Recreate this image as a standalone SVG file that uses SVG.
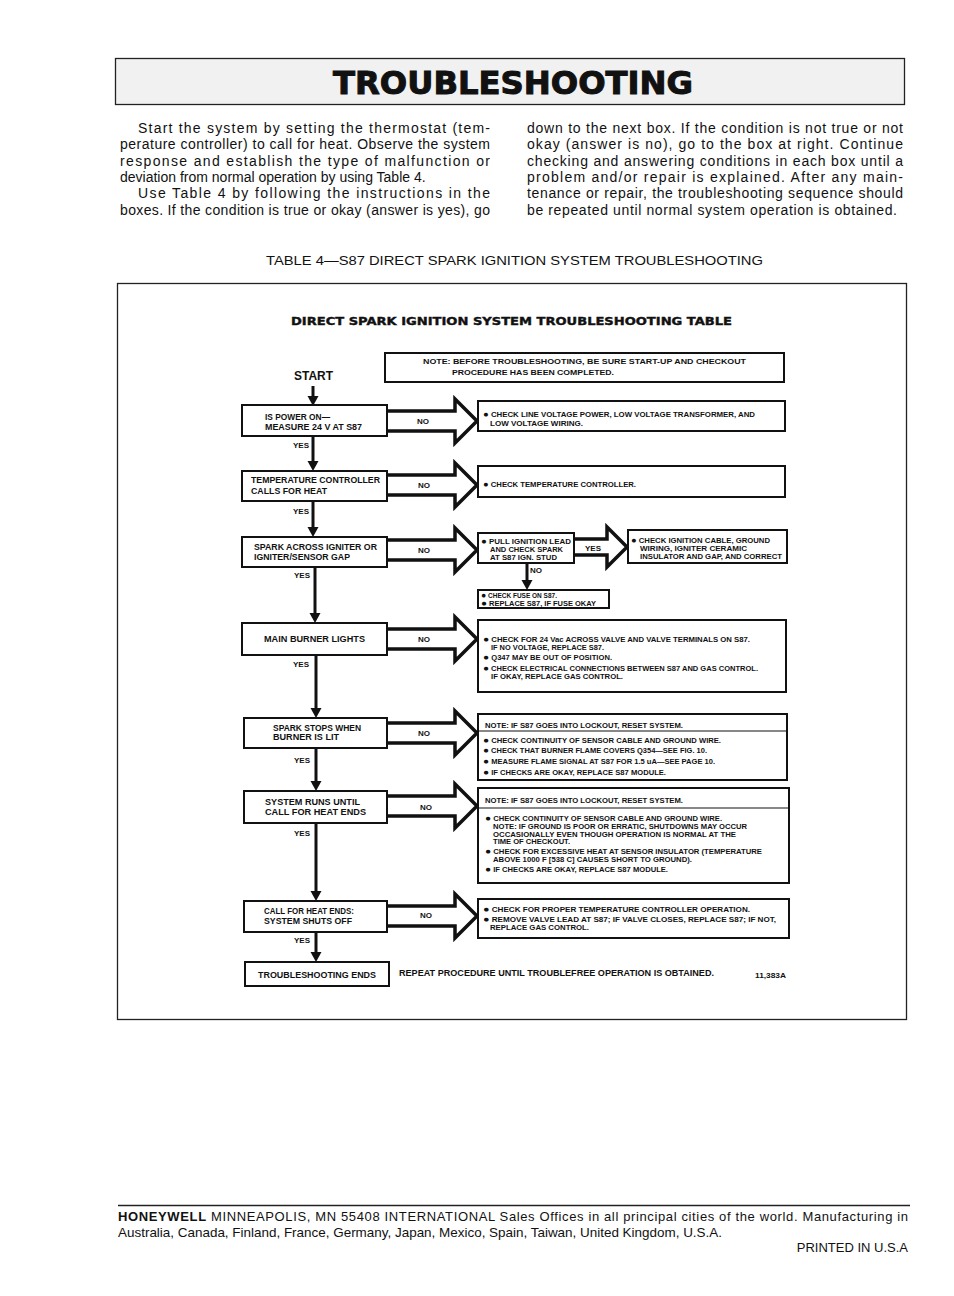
<svg xmlns="http://www.w3.org/2000/svg" width="954" height="1296" viewBox="0 0 954 1296">
<defs>
<style>
text{font-family:"Liberation Sans",Arial,Helvetica,sans-serif;fill:#111}
.body{font-size:14px}
.foot{font-size:13px}
.cap{font-size:13.5px}
.lb{font-size:8.3px;font-weight:bold}
.rb{font-size:7px;font-weight:bold}
.sm{font-size:6.4px;font-weight:bold}
.bu{font-size:8.5px}
.lbl{font-size:8px;font-weight:bold}
.box{fill:#fff;stroke:#111;stroke-width:2}
.big{fill:#fff;stroke:#111;stroke-width:3.5;stroke-linejoin:miter}
.vl{stroke:#111;stroke-width:3;fill:none}
.ah{fill:#111}
</style>
</defs>
<rect width="954" height="1296" fill="#fff"/>

<g id="header">
<rect x="115.5" y="58.5" width="789" height="46" fill="#f1f1f1" stroke="#222" stroke-width="1.3"/>
<text x="333" y="94" font-weight="bold" font-size="32" textLength="360" lengthAdjust="spacingAndGlyphs" stroke="#111" stroke-width="1" style="font-family:'DejaVu Sans','Liberation Sans',sans-serif">TROUBLESHOOTING</text>
</g>

<g id="intro">
<text class="body" x="138" y="133" textLength="352" lengthAdjust="spacing">Start the system by setting the thermostat (tem-</text>
<text class="body" x="120" y="149.3" textLength="370" lengthAdjust="spacing">perature controller) to call for heat. Observe the system</text>
<text class="body" x="120" y="165.6" textLength="370" lengthAdjust="spacing">response and establish the type of malfunction or</text>
<text class="body" x="120" y="181.9">deviation from normal operation by using Table 4.</text>
<text class="body" x="138" y="198.2" textLength="352" lengthAdjust="spacing">Use Table 4 by following the instructions in the</text>
<text class="body" x="120" y="214.5" textLength="370" lengthAdjust="spacing">boxes. If the condition is true or okay (answer is yes), go</text>
<text class="body" x="527" y="133" textLength="376" lengthAdjust="spacing">down to the next box. If the condition is not true or not</text>
<text class="body" x="527" y="149.3" textLength="376" lengthAdjust="spacing">okay (answer is no), go to the box at right. Continue</text>
<text class="body" x="527" y="165.6" textLength="376" lengthAdjust="spacing">checking and answering conditions in each box until a</text>
<text class="body" x="527" y="181.9" textLength="376" lengthAdjust="spacing">problem and/or repair is explained. After any main-</text>
<text class="body" x="527" y="198.2" textLength="376" lengthAdjust="spacing">tenance or repair, the troubleshooting sequence should</text>
<text class="body" x="527" y="214.5" textLength="370" lengthAdjust="spacing">be repeated until normal system operation is obtained.</text>
</g>

<text class="cap" x="266" y="265" textLength="497" lengthAdjust="spacingAndGlyphs">TABLE 4—S87 DIRECT SPARK IGNITION SYSTEM TROUBLESHOOTING</text>

<rect id="table-frame" x="117.5" y="283.5" width="789" height="736" fill="none" stroke="#222" stroke-width="1.3"/>

<text x="291" y="325" font-size="11" font-weight="bold" textLength="441" lengthAdjust="spacingAndGlyphs" stroke="#111" stroke-width="0.4" style="font-family:'DejaVu Sans','Liberation Sans',sans-serif">DIRECT SPARK IGNITION SYSTEM TROUBLESHOOTING TABLE</text>

<g id="start"><text x="294" y="380" font-size="13" font-weight="bold" textLength="39" lengthAdjust="spacingAndGlyphs">START</text></g>

<g id="note">
<rect class="box" x="385" y="353" width="399" height="29"/>
<text class="rb" x="423" y="364" textLength="323" lengthAdjust="spacingAndGlyphs">NOTE: BEFORE TROUBLESHOOTING, BE SURE START-UP AND CHECKOUT</text>
<text class="rb" x="452" y="375" textLength="162" lengthAdjust="spacingAndGlyphs">PROCEDURE HAS BEEN COMPLETED.</text>
</g>

<g id="connectors">
<line class="vl" x1="313" y1="386" x2="313" y2="398"/><polygon class="ah" points="307.5,396 318.5,396 313,406"/>
<line class="vl" x1="313" y1="436" x2="313" y2="463"/><polygon class="ah" points="307.5,461 318.5,461 313,471"/>
<line class="vl" x1="313" y1="501" x2="313" y2="529"/><polygon class="ah" points="307.5,527 318.5,527 313,537"/>
<line class="vl" x1="315" y1="567" x2="315" y2="615"/><polygon class="ah" points="309.5,613 320.5,613 315,623"/>
<line class="vl" x1="316" y1="655" x2="316" y2="710"/><polygon class="ah" points="310.5,708 321.5,708 316,718"/>
<line class="vl" x1="316" y1="748" x2="316" y2="783"/><polygon class="ah" points="310.5,781 321.5,781 316,791"/>
<line class="vl" x1="316" y1="823" x2="316" y2="893"/><polygon class="ah" points="310.5,891 321.5,891 316,901"/>
<line class="vl" x1="316" y1="932" x2="316" y2="954"/><polygon class="ah" points="310.5,952 321.5,952 316,962"/>
<line class="vl" x1="527" y1="563" x2="527" y2="582"/><polygon class="ah" points="521.5,580 532.5,580 527,590"/>
<path class="big" d="M387,411 H455 V399 L477,421 L455,443 V431 H387"/>
<path class="big" d="M387,475 H455 V463 L477,485 L455,507 V495 H387"/>
<path class="big" d="M387,540 H455 V528 L477,550 L455,572 V560 H387"/>
<path class="big" d="M574,539 H607 V527 L627,547 L607,567 V555 H574"/>
<path class="big" d="M387,629 H455 V617 L477,639 L455,661 V649 H387"/>
<path class="big" d="M387,723 H455 V711 L477,733 L455,755 V743 H387"/>
<path class="big" d="M387,796 H455 V784 L477,806 L455,828 V816 H387"/>
<path class="big" d="M387,906 H455 V894 L477,916 L455,938 V926 H387"/>
<text class="lbl" x="417" y="424">NO</text>
<text class="lbl" x="418" y="488">NO</text>
<text class="lbl" x="418" y="553">NO</text>
<text class="lbl" x="585" y="551">YES</text>
<text class="lbl" x="530" y="573">NO</text>
<text class="lbl" x="418" y="642">NO</text>
<text class="lbl" x="418" y="736">NO</text>
<text class="lbl" x="420" y="810">NO</text>
<text class="lbl" x="420" y="918">NO</text>
<text class="lbl" x="309" y="448" text-anchor="end">YES</text>
<text class="lbl" x="309" y="514" text-anchor="end">YES</text>
<text class="lbl" x="310" y="578" text-anchor="end">YES</text>
<text class="lbl" x="309" y="667" text-anchor="end">YES</text>
<text class="lbl" x="310" y="763" text-anchor="end">YES</text>
<text class="lbl" x="310" y="836" text-anchor="end">YES</text>
<text class="lbl" x="310" y="943" text-anchor="end">YES</text>
</g>

<g id="box1">
<rect class="box" x="242" y="405" width="145" height="31"/>
<text class="lb" x="265" y="420" textLength="65" lengthAdjust="spacingAndGlyphs">IS POWER ON—</text>
<text class="lb" x="265" y="430" textLength="97" lengthAdjust="spacingAndGlyphs">MEASURE 24 V AT S87</text>
</g>
<g id="fix1">
<rect class="box" x="478" y="401" width="307" height="30"/>
<text class="rb" x="483" y="417" textLength="272" lengthAdjust="spacingAndGlyphs"><tspan class="bu">●</tspan> CHECK LINE VOLTAGE POWER, LOW VOLTAGE TRANSFORMER, AND</text>
<text class="rb" x="490" y="426" textLength="93" lengthAdjust="spacingAndGlyphs">LOW VOLTAGE WIRING.</text>
</g>

<g id="box2">
<rect class="box" x="242" y="471" width="145" height="30"/>
<text class="lb" x="251" y="483" textLength="129" lengthAdjust="spacingAndGlyphs">TEMPERATURE CONTROLLER</text>
<text class="lb" x="251" y="494" textLength="76" lengthAdjust="spacingAndGlyphs">CALLS FOR HEAT</text>
</g>
<g id="fix2">
<rect class="box" x="478" y="466" width="307" height="31"/>
<text class="rb" x="483" y="487" textLength="153" lengthAdjust="spacingAndGlyphs"><tspan class="bu">●</tspan> CHECK TEMPERATURE CONTROLLER.</text>
</g>

<g id="box3">
<rect class="box" x="242" y="537" width="145" height="30"/>
<text class="lb" x="254" y="550" textLength="123" lengthAdjust="spacingAndGlyphs">SPARK ACROSS IGNITER OR</text>
<text class="lb" x="254" y="560" textLength="96" lengthAdjust="spacingAndGlyphs">IGNITER/SENSOR GAP</text>
</g>
<g id="fix3a">
<rect class="box" x="478" y="533" width="96" height="30"/>
<text class="rb" x="481" y="544" textLength="90" lengthAdjust="spacingAndGlyphs"><tspan class="bu">●</tspan> PULL IGNITION LEAD</text>
<text class="rb" x="490" y="552" textLength="73" lengthAdjust="spacingAndGlyphs">AND CHECK SPARK</text>
<text class="rb" x="490" y="560" textLength="67" lengthAdjust="spacingAndGlyphs">AT S87 IGN. STUD</text>
</g>
<g id="fix3b">
<rect class="box" x="628" y="530" width="159" height="33"/>
<text class="rb" x="631" y="543" textLength="139" lengthAdjust="spacingAndGlyphs"><tspan class="bu">●</tspan> CHECK IGNITION CABLE, GROUND</text>
<text class="rb" x="640" y="551" textLength="107" lengthAdjust="spacingAndGlyphs">WIRING, IGNITER CERAMIC</text>
<text class="rb" x="640" y="559" textLength="142" lengthAdjust="spacingAndGlyphs">INSULATOR AND GAP, AND CORRECT</text>
</g>
<g id="fix3c">
<rect class="box" x="478" y="590" width="131" height="18"/>
<text class="sm" x="481" y="598" textLength="76" lengthAdjust="spacingAndGlyphs"><tspan class="bu">●</tspan> CHECK FUSE ON S87.</text>
<text class="sm" x="481" y="606" textLength="115" lengthAdjust="spacingAndGlyphs"><tspan class="bu">●</tspan> REPLACE S87, IF FUSE OKAY</text>
</g>

<g id="box4">
<rect class="box" x="242" y="623" width="145" height="32"/>
<text class="lb" x="264" y="642" textLength="101" lengthAdjust="spacingAndGlyphs">MAIN BURNER LIGHTS</text>
</g>
<g id="fix4">
<rect class="box" x="478" y="620" width="308" height="72"/>
<text class="sm" x="483" y="642" textLength="267" lengthAdjust="spacingAndGlyphs"><tspan class="bu">●</tspan> CHECK FOR 24 Vac ACROSS VALVE AND VALVE TERMINALS ON S87.</text>
<text class="sm" x="491" y="650" textLength="113" lengthAdjust="spacingAndGlyphs">IF NO VOLTAGE, REPLACE S87.</text>
<text class="sm" x="483" y="660" textLength="129" lengthAdjust="spacingAndGlyphs"><tspan class="bu">●</tspan> Q347 MAY BE OUT OF POSITION.</text>
<text class="sm" x="483" y="671" textLength="275" lengthAdjust="spacingAndGlyphs"><tspan class="bu">●</tspan> CHECK ELECTRICAL CONNECTIONS BETWEEN S87 AND GAS CONTROL.</text>
<text class="sm" x="491" y="679" textLength="132" lengthAdjust="spacingAndGlyphs">IF OKAY, REPLACE GAS CONTROL.</text>
</g>

<g id="box5">
<rect class="box" x="244" y="718" width="143" height="30"/>
<text class="lb" x="273" y="731" textLength="88" lengthAdjust="spacingAndGlyphs">SPARK STOPS WHEN</text>
<text class="lb" x="273" y="740" textLength="66" lengthAdjust="spacingAndGlyphs">BURNER IS LIT</text>
</g>
<g id="fix5">
<rect class="box" x="478" y="714" width="309" height="66"/>
<line x1="478" y1="731" x2="787" y2="731" stroke="#111" stroke-width="1.2"/>
<text class="sm" x="485" y="728" textLength="198" lengthAdjust="spacingAndGlyphs">NOTE: IF S87 GOES INTO LOCKOUT, RESET SYSTEM.</text>
<text class="sm" x="483" y="743" textLength="238" lengthAdjust="spacingAndGlyphs"><tspan class="bu">●</tspan> CHECK CONTINUITY OF SENSOR CABLE AND GROUND WIRE.</text>
<text class="sm" x="483" y="753" textLength="224" lengthAdjust="spacingAndGlyphs"><tspan class="bu">●</tspan> CHECK THAT BURNER FLAME COVERS Q354—SEE FIG. 10.</text>
<text class="sm" x="483" y="764" textLength="232" lengthAdjust="spacingAndGlyphs"><tspan class="bu">●</tspan> MEASURE FLAME SIGNAL AT S87 FOR 1.5 uA—SEE PAGE 10.</text>
<text class="sm" x="483" y="775" textLength="183" lengthAdjust="spacingAndGlyphs"><tspan class="bu">●</tspan> IF CHECKS ARE OKAY, REPLACE S87 MODULE.</text>
</g>

<g id="box6">
<rect class="box" x="244" y="791" width="143" height="32"/>
<text class="lb" x="265" y="805" textLength="95" lengthAdjust="spacingAndGlyphs">SYSTEM RUNS UNTIL</text>
<text class="lb" x="265" y="815" textLength="101" lengthAdjust="spacingAndGlyphs">CALL FOR HEAT ENDS</text>
</g>
<g id="fix6">
<rect class="box" x="478" y="788" width="311" height="95"/>
<line x1="478" y1="808" x2="789" y2="808" stroke="#111" stroke-width="1.2"/>
<text class="sm" x="485" y="803" textLength="198" lengthAdjust="spacingAndGlyphs">NOTE: IF S87 GOES INTO LOCKOUT, RESET SYSTEM.</text>
<text class="sm" x="485" y="821" textLength="237" lengthAdjust="spacingAndGlyphs"><tspan class="bu">●</tspan> CHECK CONTINUITY OF SENSOR CABLE AND GROUND WIRE.</text>
<text class="sm" x="493" y="829" textLength="254" lengthAdjust="spacingAndGlyphs">NOTE: IF GROUND IS POOR OR ERRATIC, SHUTDOWNS MAY OCCUR</text>
<text class="sm" x="493" y="837" textLength="243" lengthAdjust="spacingAndGlyphs">OCCASIONALLY EVEN THOUGH OPERATION IS NORMAL AT THE</text>
<text class="sm" x="493" y="844" textLength="77" lengthAdjust="spacingAndGlyphs">TIME OF CHECKOUT.</text>
<text class="sm" x="485" y="854" textLength="277" lengthAdjust="spacingAndGlyphs"><tspan class="bu">●</tspan> CHECK FOR EXCESSIVE HEAT AT SENSOR INSULATOR (TEMPERATURE</text>
<text class="sm" x="493" y="862" textLength="199" lengthAdjust="spacingAndGlyphs">ABOVE 1000 F [538 C] CAUSES SHORT TO GROUND).</text>
<text class="sm" x="485" y="872" textLength="183" lengthAdjust="spacingAndGlyphs"><tspan class="bu">●</tspan> IF CHECKS ARE OKAY, REPLACE S87 MODULE.</text>
</g>

<g id="box7">
<rect class="box" x="244" y="901" width="143" height="31"/>
<text class="lb" x="264" y="914" textLength="90" lengthAdjust="spacingAndGlyphs">CALL FOR HEAT ENDS:</text>
<text class="lb" x="264" y="924" textLength="88" lengthAdjust="spacingAndGlyphs">SYSTEM SHUTS OFF</text>
</g>
<g id="fix7">
<rect class="box" x="478" y="899" width="311" height="39"/>
<text class="sm" x="483" y="912" textLength="267" lengthAdjust="spacingAndGlyphs"><tspan class="bu">●</tspan> CHECK FOR PROPER TEMPERATURE CONTROLLER OPERATION.</text>
<text class="sm" x="483" y="922" textLength="293" lengthAdjust="spacingAndGlyphs"><tspan class="bu">●</tspan> REMOVE VALVE LEAD AT S87; IF VALVE CLOSES, REPLACE S87; IF NOT,</text>
<text class="sm" x="490" y="930" textLength="99" lengthAdjust="spacingAndGlyphs">REPLACE GAS CONTROL.</text>
</g>

<g id="box8">
<rect class="box" x="245" y="962" width="144" height="24"/>
<text class="lb" x="258" y="978" textLength="118" lengthAdjust="spacingAndGlyphs">TROUBLESHOOTING ENDS</text>
</g>
<text class="lb" x="399" y="976" textLength="315" lengthAdjust="spacingAndGlyphs">REPEAT PROCEDURE UNTIL TROUBLEFREE OPERATION IS OBTAINED.</text>
<text class="sm" x="755" y="978" textLength="31" lengthAdjust="spacingAndGlyphs">11,383A</text>

<g id="footer">
<line x1="118" y1="1205.5" x2="910" y2="1205.5" stroke="#222" stroke-width="1.3"/>
<text class="foot" x="118" y="1221" textLength="790" lengthAdjust="spacing"><tspan font-weight="bold">HONEYWELL</tspan> MINNEAPOLIS, MN 55408 INTERNATIONAL Sales Offices in all principal cities of the world. Manufacturing in</text>
<text class="foot" x="118" y="1237" textLength="604" lengthAdjust="spacingAndGlyphs">Australia, Canada, Finland, France, Germany, Japan, Mexico, Spain, Taiwan, United Kingdom, U.S.A.</text>
<text class="foot" x="908" y="1252" text-anchor="end">PRINTED IN U.S.A</text>
</g>
</svg>
